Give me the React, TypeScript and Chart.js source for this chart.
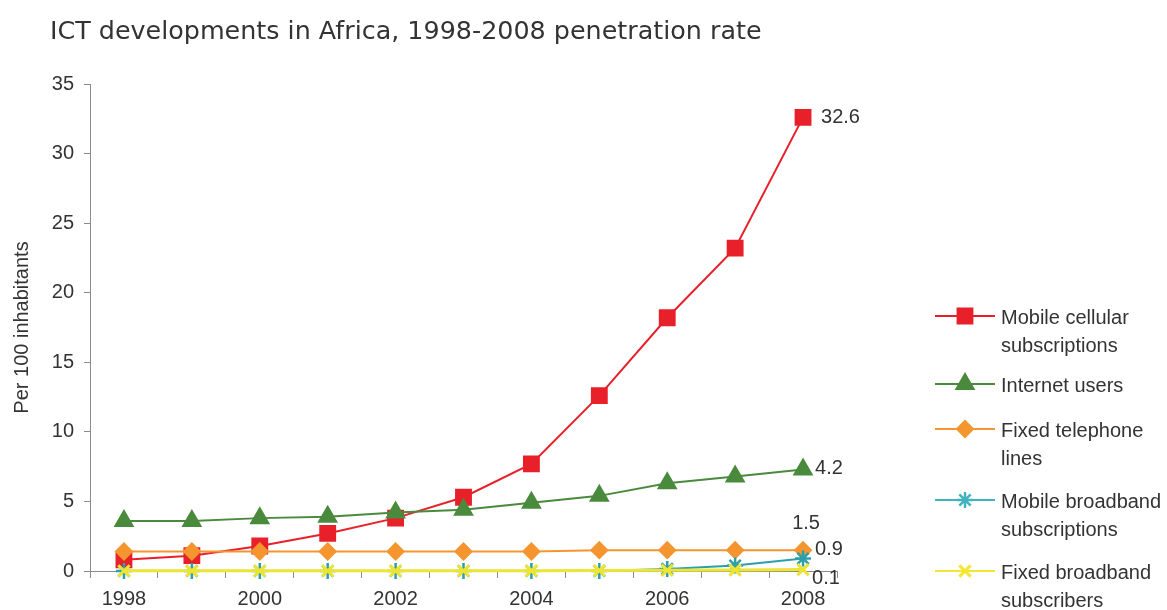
import React, { useEffect, useRef } from 'react';
import { Chart, registerables } from 'chart.js';
import { drawPoint } from 'chart.js/helpers';

Chart.register(...registerables);

// Penetration rates per 100 inhabitants, Africa 1998-2008
const years = ['1998', '1999', '2000', '2001', '2002', '2003', '2004', '2005', '2006', '2007', '2008'];
const mobileCellular = [0.8, 1.1, 1.8, 2.7, 3.8, 5.3, 7.7, 12.6, 18.2, 23.2, 32.6];
const internetUsers = [3.6, 3.6, 3.8, 3.9, 4.2, 4.4, 4.9, 5.4, 6.3, 6.8, 7.3];
const fixedTelephone = [1.4, 1.4, 1.4, 1.4, 1.4, 1.4, 1.4, 1.5, 1.5, 1.5, 1.5];
const mobileBroadband = [0, 0, 0, 0, 0, 0, 0, 0, 0.15, 0.4, 0.9];
const fixedBroadband = [0.01, 0.01, 0.01, 0.01, 0.01, 0.01, 0.02, 0.03, 0.05, 0.07, 0.1];

const seriesNames = [
  ['Mobile cellular', 'subscriptions'],
  ['Internet users'],
  ['Fixed telephone', 'lines'],
  ['Mobile broadband', 'subscriptions'],
  ['Fixed broadband', 'subscribers'],
];
const endLabels = ['32.6', '4.2', '1.5', '0.9', '0.1'];

const titleText = 'ICT developments in Africa, 1998-2008 penetration rate';
const yAxisTitle = 'Per 100 inhabitants';

const TEXT = '#333333';
const AXIS = '#8c8c8c';
const FONT = '"Liberation Sans", Arial, sans-serif';

const styles = [
  { color: '#e8202a', legendColor: '#e8202a', pointStyle: 'rect', radius: 10.5, line: 2, pointLine: 2 },
  { color: '#4a8a3c', legendColor: '#4a8a3c', pointStyle: 'triangle', radius: 10, line: 2, pointLine: 2 },
  { color: '#f5952f', legendColor: '#f5952f', pointStyle: 'rectRot', radius: 8, line: 2, pointLine: 2 },
  { color: '#2ba0aa', legendColor: '#3fb3be', pointStyle: 'star', radius: 8, line: 2, pointLine: 2.5 },
  { color: '#ede433', legendColor: '#f2e832', pointStyle: 'crossRot', radius: 8, line: 3, pointLine: 3 },
];

// placement of the value labels next to each series' last point
const endLabelPos = [
  { dx: 18, dy: 0, align: 'left' },
  { dx: 12, dy: -1, align: 'left' },
  { dx: 3, dy: -27, align: 'center' },
  { dx: 12, dy: -9, align: 'left' },
  { dx: 9, dy: 9, align: 'left' },
];

// legend rows: y of the first text line of each entry
const legendRowY = [318, 386, 431, 502, 573];

const overlayPlugin = {
  id: 'overlay',
  afterDraw(chart: any) {
    const ctx = chart.ctx as CanvasRenderingContext2D;
    ctx.save();

    // title
    ctx.fillStyle = TEXT;
    ctx.font = '25.4px "DejaVu Sans", sans-serif';
    ctx.textAlign = 'left';
    ctx.textBaseline = 'alphabetic';
    ctx.fillText(titleText, 50, 39);

    // value labels at the end of the lines
    ctx.font = `20px ${FONT}`;
    ctx.textBaseline = 'middle';
    chart.data.datasets.forEach((ds: any, i: number) => {
      const meta = chart.getDatasetMeta(i);
      const pt = meta.data[meta.data.length - 1];
      const pos = endLabelPos[i];
      ctx.textAlign = pos.align as CanvasTextAlign;
      ctx.fillText(endLabels[i], pt.x + pos.dx, pt.y + pos.dy);
    });

    // legend
    const x0 = 935;
    const x1 = 995;
    const textX = 1001;
    chart.data.datasets.forEach((ds: any, i: number) => {
      const s = styles[i];
      const y = legendRowY[i];
      const my = y - 2;
      ctx.strokeStyle = s.legendColor;
      ctx.lineWidth = 2;
      ctx.beginPath();
      ctx.moveTo(x0, my);
      ctx.lineTo(x1, my);
      ctx.stroke();
      ctx.fillStyle = s.legendColor;
      ctx.lineWidth = s.pointLine;
      drawPoint(ctx, { pointStyle: s.pointStyle, radius: s.radius, borderWidth: s.pointLine, rotation: 0 } as any, (x0 + x1) / 2, my);
      ctx.fillStyle = TEXT;
      ctx.textAlign = 'left';
      ctx.textBaseline = 'middle';
      seriesNames[i].forEach((line, k) => {
        ctx.fillText(line, textX, y + k * 28);
      });
    });

    ctx.restore();
  },
};

export default function App() {
  const canvasRef = useRef<HTMLCanvasElement | null>(null);

  useEffect(() => {
    document.body.style.margin = '0';
    const canvas = canvasRef.current;
    if (!canvas) return;
    const series = [mobileCellular, internetUsers, fixedTelephone, mobileBroadband, fixedBroadband];
    const chart = new Chart(canvas, {
      type: 'line',
      data: {
        labels: years,
        datasets: series.map((values, i) => ({
          label: seriesNames[i].join(' '),
          data: values,
          borderColor: styles[i].color,
          backgroundColor: styles[i].color,
          pointBackgroundColor: styles[i].color,
          pointBorderColor: styles[i].color,
          pointStyle: styles[i].pointStyle as any,
          pointRadius: styles[i].radius,
          pointBorderWidth: styles[i].pointLine,
          borderWidth: styles[i].line,
          tension: 0,
          fill: false,
          clip: false as any,
          order: 5 - i,
        })),
      },
      options: {
        animation: false,
        responsive: false,
        layout: { padding: { top: 84, right: 330, left: 0, bottom: 0 } },
        plugins: {
          legend: { display: false },
          tooltip: { enabled: false },
          title: { display: false },
        },
        scales: {
          x: {
            offset: true,
            grid: {
              offset: true,
              drawOnChartArea: false,
              drawTicks: true,
              tickLength: 7,
              color: AXIS,
            },
            border: { color: AXIS, width: 1 },
            ticks: {
              autoSkip: false,
              maxRotation: 0,
              padding: 9,
              color: TEXT,
              font: { family: FONT, size: 20 },
              callback: (_v: any, idx: number) => (idx % 2 === 0 ? years[idx] : ''),
            },
            afterFit: (scale: any) => {
              scale.height = 39;
            },
          },
          y: {
            min: 0,
            max: 35,
            ticks: {
              stepSize: 5,
              padding: 10,
              color: TEXT,
              font: { family: FONT, size: 20 },
            },
            grid: {
              drawOnChartArea: false,
              drawTicks: true,
              tickLength: 6,
              color: AXIS,
            },
            border: { color: AXIS, width: 1 },
            title: {
              display: true,
              text: yAxisTitle,
              color: TEXT,
              font: { family: FONT, size: 20 },
              padding: { top: 10, bottom: 0 },
            },
            afterFit: (scale: any) => {
              scale.width = 90;
            },
          },
        },
      },
      plugins: [overlayPlugin],
    });
    return () => chart.destroy();
  }, []);

  return (
    <div style={{ width: 1167, height: 610, background: '#ffffff' }}>
      <canvas ref={canvasRef} width={1167} height={610} />
    </div>
  );
}
